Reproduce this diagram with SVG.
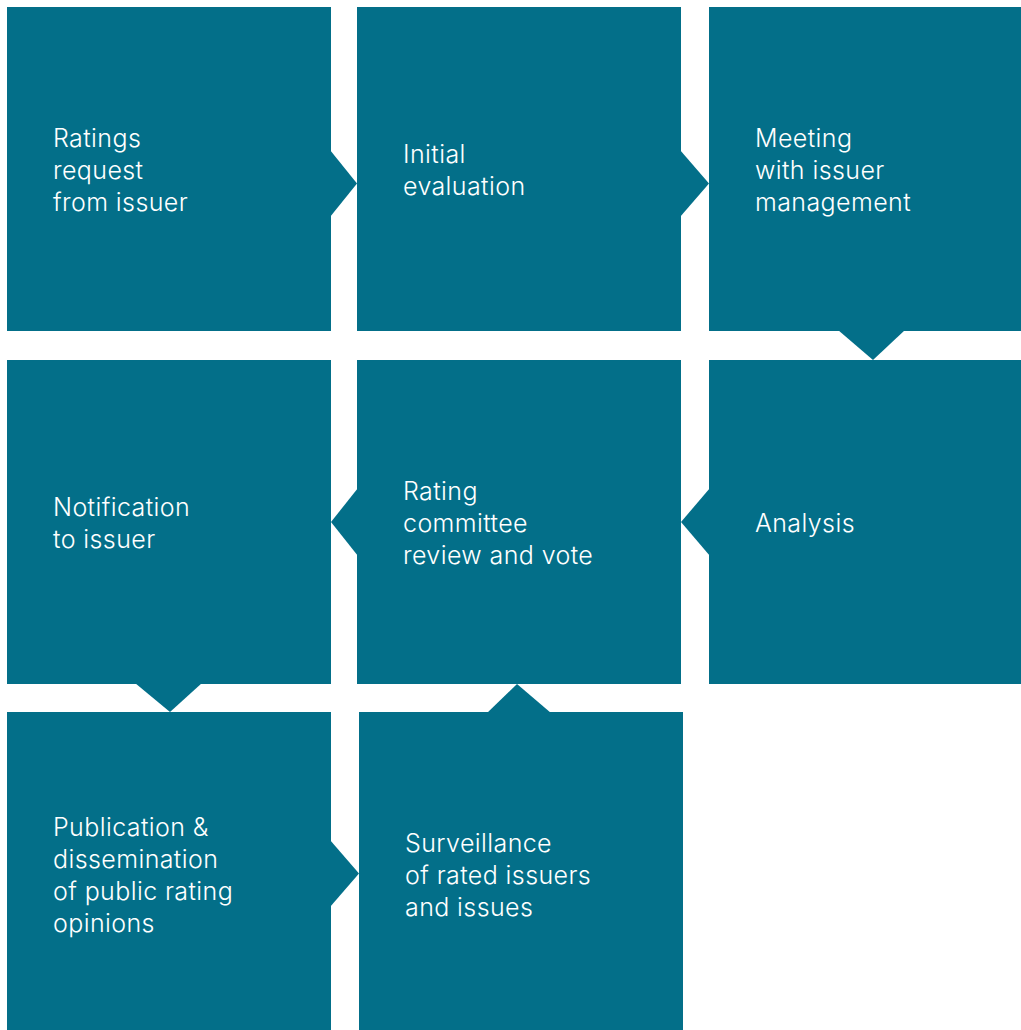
<svg xmlns="http://www.w3.org/2000/svg" width="1021" height="1030" viewBox="0 0 1021 1030">
<style>
.box{fill:#036f89}
.arr{fill:#036f89}
.t{font-family:Inter,"Liberation Sans",sans-serif;font-weight:300;font-size:25px;letter-spacing:0.4px;fill:#ffffff}
</style>
<rect width="1021" height="1030" fill="#ffffff"/>
<g id="connectors">
<polygon class="arr" points="330,150 357,183.5 330,217"/>
<polygon class="arr" points="680,150 709,183.5 680,217"/>
<polygon class="arr" points="838,330 873,360 905,330"/>
<polygon class="arr" points="710,488 681,522 710,556"/>
<polygon class="arr" points="358,488 331,522 358,556"/>
<polygon class="arr" points="135,683 170,712 202,683"/>
<polygon class="arr" points="487,713 517,684 551,713"/>
<polygon class="arr" points="330,840 359,873.5 330,907"/>
</g>
<g id="n1"><rect class="box" x="7" y="7" width="324" height="324"/>
<text class="t" x="53" y="147">Ratings</text><text class="t" x="53" y="179">request</text><text class="t" x="53" y="211">from issuer</text></g>
<g id="n2"><rect class="box" x="357" y="7" width="324" height="324"/>
<text class="t" x="403" y="163">Initial</text><text class="t" x="403" y="195">evaluation</text></g>
<g id="n3"><rect class="box" x="709" y="7" width="312" height="324"/>
<text class="t" x="755" y="147">Meeting</text><text class="t" x="755" y="179">with issuer</text><text class="t" x="755" y="211">management</text></g>
<g id="n4"><rect class="box" x="709" y="360" width="312" height="324"/>
<text class="t" x="755" y="532">Analysis</text></g>
<g id="n5"><rect class="box" x="357" y="360" width="324" height="324"/>
<text class="t" x="403" y="500">Rating</text><text class="t" x="403" y="532">committee</text><text class="t" x="403" y="564">review and vote</text></g>
<g id="n6"><rect class="box" x="7" y="360" width="324" height="324"/>
<text class="t" x="53" y="516">Notification</text><text class="t" x="53" y="548">to issuer</text></g>
<g id="n7"><rect class="box" x="7" y="712" width="324" height="318"/>
<text class="t" x="53" y="836">Publication &amp;</text><text class="t" x="53" y="868">dissemination</text><text class="t" x="53" y="900">of public rating</text><text class="t" x="53" y="932">opinions</text></g>
<g id="n8"><rect class="box" x="359" y="712" width="324" height="318"/>
<text class="t" x="405" y="852">Surveillance</text><text class="t" x="405" y="884">of rated issuers</text><text class="t" x="405" y="916">and issues</text></g>
</svg>
